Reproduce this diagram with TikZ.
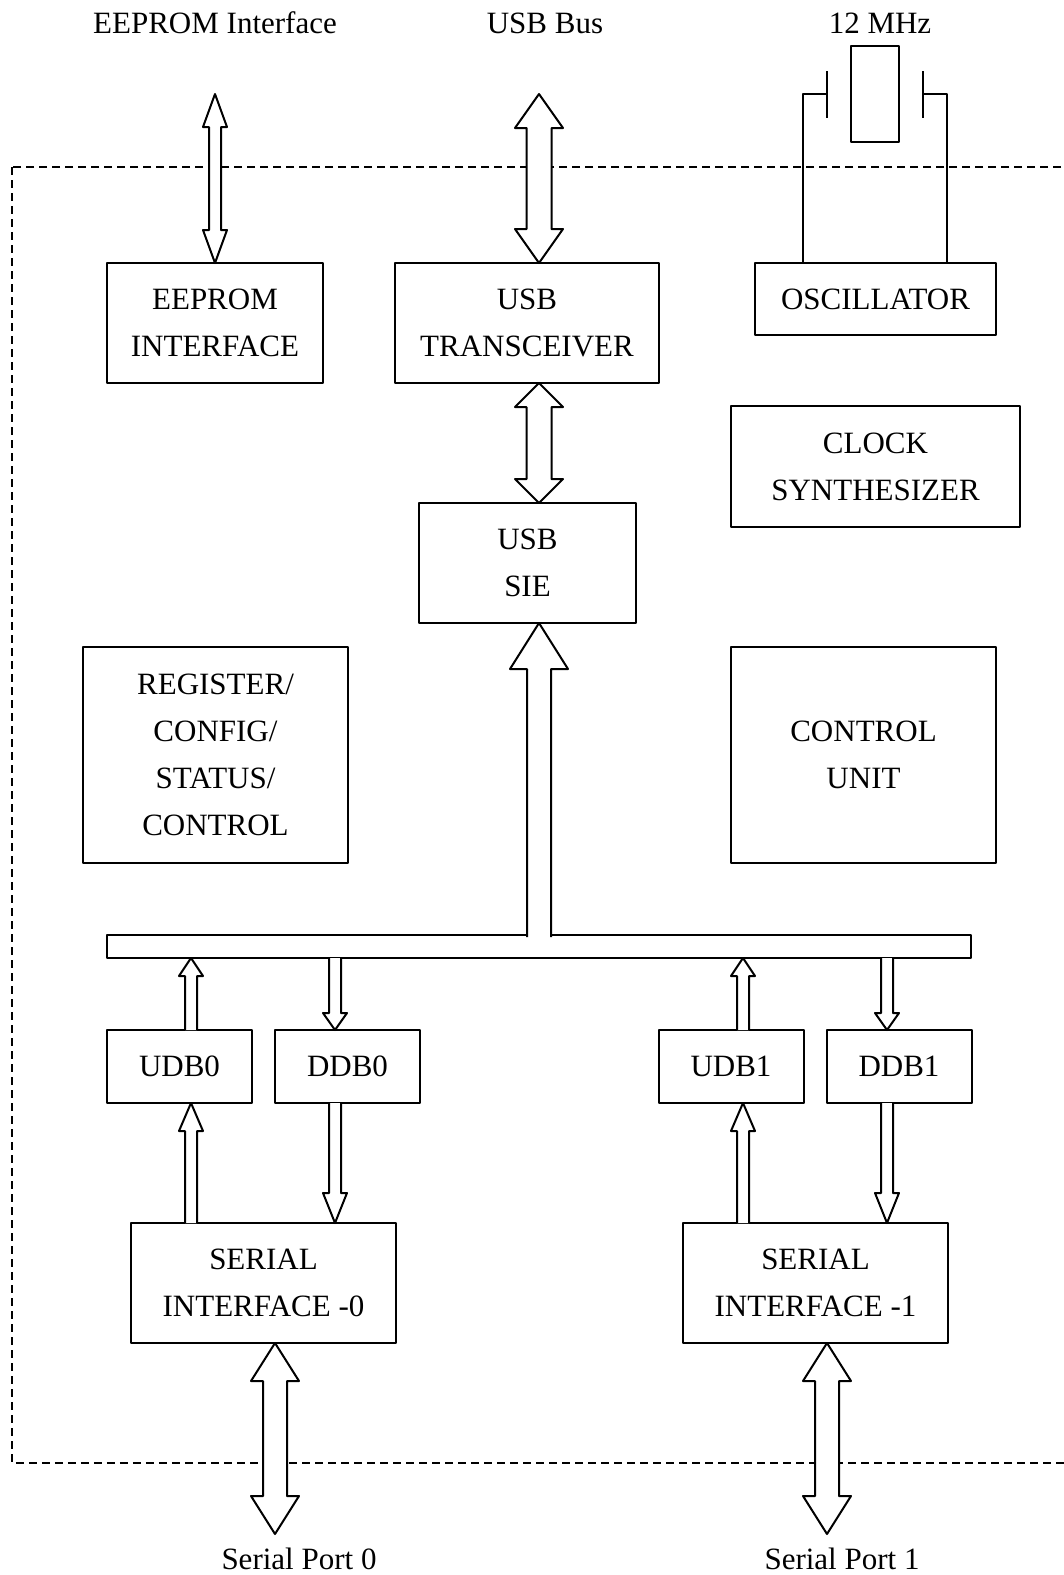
\documentclass[tikz,border=0pt]{standalone}
\usepackage{fontspec}
\setmainfont{Liberation Serif}
\usetikzlibrary{calc}

% hollow vertical arrows, x taken from the first point
% #3 shaft half width, #4 head half width, #5 head length
\newcommand{\fatboth}[5]{%
  \draw[fatline] let \p1=(#1), \p2=(#2) in
    (\x1,\y1) -- (\x1+#4,\y1-#5) -- (\x1+#3,\y1-#5) -- (\x1+#3,\y2+#5) -- (\x1+#4,\y2+#5)
    -- (\x1,\y2) -- (\x1-#4,\y2+#5) -- (\x1-#3,\y2+#5) -- (\x1-#3,\y1-#5) -- (\x1-#4,\y1-#5) -- cycle;}
\newcommand{\fatup}[5]{%
  \draw[fatline] let \p1=(#1), \p2=(#2) in
    (\x1+#3,\y2) -- (\x1+#3,\y1-#5) -- (\x1+#4,\y1-#5) -- (\x1,\y1)
    -- (\x1-#4,\y1-#5) -- (\x1-#3,\y1-#5) -- (\x1-#3,\y2);}
\newcommand{\fatdown}[5]{%
  \draw[fatline] let \p1=(#1), \p2=(#2) in
    (\x1+#3,\y1) -- (\x1+#3,\y2+#5) -- (\x1+#4,\y2+#5) -- (\x1,\y2)
    -- (\x1-#4,\y2+#5) -- (\x1-#3,\y2+#5) -- (\x1-#3,\y1);}

\begin{document}
\begin{tikzpicture}[x=0.5pt,y=-0.5pt,line join=round,
  box/.style={draw,line width=1pt,inner sep=0pt,outer sep=0pt,align=center,
    font=\fontsize{15.5}{23.5}\selectfont},
  buf/.style={box,minimum width=72.5pt,minimum height=36.5pt},
  lbl/.style={inner sep=0pt,font=\fontsize{15.5}{23.5}\selectfont},
  wire/.style={line width=1pt},
  fatline/.style={draw,line width=1pt,fill=white},
  frameline/.style={line width=1pt,dash pattern=on 4pt off 2.5pt}]
\useasboundingbox (0,0) rectangle (1064,1575);
% chip outline, open on the right
\draw[frameline] (12,167) rectangle (1080,1463);
% blocks
\node[box,minimum width=108pt,minimum height=60pt] (eeprom) at (215,323) {EEPROM\\INTERFACE};
\node[box,minimum width=132pt,minimum height=60pt] (usbt) at (527,323) {USB\\TRANSCEIVER};
\node[box,minimum width=120.5pt,minimum height=36pt] (osc) at (875.5,299) {OSCILLATOR};
\node[box,minimum width=144.5pt,minimum height=60.5pt] (clk) at (875.5,466.5) {CLOCK\\SYNTHESIZER};
\node[box,minimum width=108.5pt,minimum height=60pt] (sie) at (527.5,563) {USB\\SIE};
\node[box,minimum width=132.5pt,minimum height=108pt] (reg) at (215.5,755) {REGISTER/\\CONFIG/\\STATUS/\\CONTROL};
\node[box,minimum width=132.5pt,minimum height=108pt] (ctrl) at (863.5,755) {CONTROL\\UNIT};
\node[box,minimum width=432pt,minimum height=11.5pt] (bus) at (539,946.5) {};
\foreach \n/\x/\t in {udb0/179.5/UDB0, ddb0/347.5/DDB0, udb1/731/UDB1, ddb1/899/DDB1}
  {\node[buf] (\n) at (\x,1066.5) {\t};}
\node[box,minimum width=132.5pt,minimum height=60pt] (ser0) at (263.5,1283) {SERIAL\\INTERFACE -0};
\node[box,minimum width=132.5pt,minimum height=60pt] (ser1) at (815.5,1283) {SERIAL\\INTERFACE -1};
% outside labels
\node[lbl,anchor=base] (eeplbl) at (215,33) {EEPROM Interface};
\node[lbl,anchor=base] (usblbl) at (545,33) {USB Bus};
\node[lbl,anchor=base] (xtallbl) at (880,33) {12 MHz};
\node[lbl,anchor=base] (sp0lbl) at (299,1569) {Serial Port 0};
\node[lbl,anchor=base] (sp1lbl) at (842,1569) {Serial Port 1};
% crystal
\draw[wire] (851,46) rectangle (899,142);
\draw[wire] (827,71) -- (827,118) (923,71) -- (923,118);
\coordinate (wl) at (803,94); \coordinate (wr) at (947,94);
\draw[wire] (827,94) -- (wl) -- (wl |- osc.north);
\draw[wire] (923,94) -- (wr) -- (wr |- osc.north);
% free ends and arrow lines
\coordinate (eepext) at (215,94);
\coordinate (usbext) at (539,94);
\coordinate (sp0ext) at (275,1534);
\coordinate (sp1ext) at (827,1534);
\foreach \n/\x in {u0/191, d0/335, u1/743, d1/887}{\coordinate (\n) at (\x,0);}
% arrows
\fatboth{eepext}{eeprom.north}{3pt}{6pt}{16.5pt}
\fatboth{usbext}{usbt.north}{6.25pt}{12pt}{17pt}
\fatboth{usbt.south -| usbext}{sie.north}{6.25pt}{12pt}{12pt}
\fatup{sie.south -| usbext}{[yshift=-1pt]bus.north}{6pt}{14.5pt}{23pt}
\foreach \u/\d/\k in {u0/d0/0, u1/d1/1}{
  \fatup{bus.south -| \u}{udb\k.north}{3pt}{6pt}{9pt}
  \fatup{udb\k.south -| \u}{ser\k.north}{3pt}{6pt}{14pt}
  \fatdown{bus.south -| \d}{ddb\k.north}{3pt}{6pt}{8.5pt}
  \fatdown{ddb\k.south -| \d}{ser\k.north}{3pt}{6pt}{15pt}}
\fatboth{ser0.south -| sp0ext}{sp0ext}{6pt}{12pt}{19pt}
\fatboth{ser1.south -| sp1ext}{sp1ext}{6pt}{12pt}{19pt}
\end{tikzpicture}
\end{document}
